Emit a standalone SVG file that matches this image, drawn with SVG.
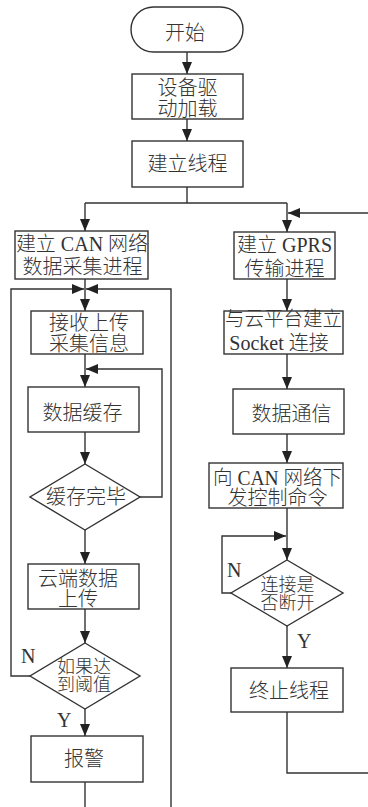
<svg xmlns="http://www.w3.org/2000/svg" width="368" height="807" viewBox="0 0 368 807">
<style>
.b{fill:#fff;stroke:#333;stroke-width:1.4}
.t{font-family:"Liberation Serif","Noto Sans CJK SC",serif;font-size:20px;font-weight:300;fill:#333;text-anchor:middle}
.d{font-size:18px}
.l{font-family:"Liberation Serif",serif;font-size:20px;fill:#333}
.c{fill:none;stroke:#333;stroke-width:1.4}
</style>
<defs>
<marker id="a" viewBox="0 0 12 10" refX="12" refY="5" markerWidth="12" markerHeight="10" markerUnits="userSpaceOnUse" orient="auto">
<path d="M0,0 L12,5 L0,10 z" fill="#222"/>
</marker>
</defs>
<rect width="368" height="807" fill="#fff"/>
<g id="connectors">
<path class="c" d="M187,52 V74" marker-end="url(#a)"/>
<path class="c" d="M187,119 V141" marker-end="url(#a)"/>
<path class="c" d="M187,187 V203 M85,203 H287"/>
<path class="c" d="M85,203 V231" marker-end="url(#a)"/>
<path class="c" d="M287,203 V232" marker-end="url(#a)"/>
<path class="c" d="M368,213 H288" marker-end="url(#a)"/>
<path class="c" d="M85,279 V311" marker-end="url(#a)"/>
<path class="c" d="M30,676 H11 V289 H84" marker-end="url(#a)"/>
<path class="c" d="M171,807 V289 H86" marker-end="url(#a)"/>
<path class="c" d="M85,354 V387" marker-end="url(#a)"/>
<path class="c" d="M140,497 H162 V369 H86" marker-end="url(#a)"/>
<path class="c" d="M85,432 V464" marker-end="url(#a)"/>
<path class="c" d="M85,530 V564" marker-end="url(#a)"/>
<path class="c" d="M85,609 V643" marker-end="url(#a)"/>
<path class="c" d="M85,709 V736" marker-end="url(#a)"/>
<path class="c" d="M85,782 V807"/>
<path class="c" d="M287,279 V311" marker-end="url(#a)"/>
<path class="c" d="M287,354 V389" marker-end="url(#a)"/>
<path class="c" d="M287,434 V463" marker-end="url(#a)"/>
<path class="c" d="M287,508 V560" marker-end="url(#a)"/>
<path class="c" d="M231,593 H222 V536 H286" marker-end="url(#a)"/>
<path class="c" d="M287,626 V668" marker-end="url(#a)"/>
<path class="c" d="M287,712 V773 H368"/>
<text class="l" x="21" y="663">N</text>
<text class="l" x="57" y="727">Y</text>
<text class="l" x="227" y="577">N</text>
<text class="l" x="297" y="648">Y</text>
</g>
<g id="start">
<rect class="b" x="131" y="7" width="112" height="45" rx="22.5"/>
<text class="t" x="185" y="40">开始</text>
</g>
<g id="driver">
<rect class="b" x="132" y="74" width="111" height="45"/>
<text class="t" x="187.5" y="95">设备驱</text>
<text class="t" x="187.5" y="116">动加载</text>
</g>
<g id="thread">
<rect class="b" x="132" y="141" width="111" height="46"/>
<text class="t" x="187.5" y="170.5">建立线程</text>
</g>
<g id="can">
<rect class="b" x="15" y="231" width="133" height="48"/>
<text class="t" x="82" y="251">建立 CAN 网络</text>
<text class="t" x="82.5" y="274">数据采集进程</text>
</g>
<g id="recv">
<rect class="b" x="31" y="311" width="112" height="43"/>
<text class="t" x="89" y="330">接收上传</text>
<text class="t" x="89" y="351">采集信息</text>
</g>
<g id="cache">
<rect class="b" x="28" y="387" width="111" height="45"/>
<text class="t" x="82.5" y="419.5">数据缓存</text>
</g>
<g id="cachedone">
<polygon class="b" points="85,464 140,497 85,530 30,497"/>
<text class="t" x="86" y="504">缓存完毕</text>
</g>
<g id="upload">
<rect class="b" x="28" y="564" width="111" height="45"/>
<text class="t" x="78" y="586">云端数据</text>
<text class="t" x="78" y="606">上传</text>
</g>
<g id="threshold">
<polygon class="b" points="85,643 140,676 85,709 30,676"/>
<text class="t d" x="84" y="672.5">如果达</text>
<text class="t d" x="84" y="691">到阈值</text>
</g>
<g id="alarm">
<rect class="b" x="31" y="736" width="112" height="46"/>
<text class="t" x="84" y="765.5">报警</text>
</g>
<g id="gprs">
<rect class="b" x="234" y="232" width="101" height="47"/>
<text class="t" x="284.5" y="252">建立 GPRS</text>
<text class="t" x="284.5" y="276">传输进程</text>
</g>
<g id="socket">
<rect class="b" x="224" y="311" width="119" height="43"/>
<text class="t" x="283.5" y="326" textLength="117" lengthAdjust="spacingAndGlyphs">与云平台建立</text>
<text class="t" x="279" y="350">Socket 连接</text>
</g>
<g id="comm">
<rect class="b" x="233" y="389" width="111" height="45"/>
<text class="t" x="291.5" y="420.5">数据通信</text>
</g>
<g id="control">
<rect class="b" x="209" y="463" width="134" height="45"/>
<text class="t" x="277.5" y="485" textLength="129" lengthAdjust="spacingAndGlyphs">向 CAN 网络下</text>
<text class="t" x="277.5" y="505">发控制命令</text>
</g>
<g id="disconnect">
<polygon class="b" points="287,560 343,593 287,626 231,593"/>
<text class="t d" x="287.5" y="590.5">连接是</text>
<text class="t d" x="287.5" y="609">否断开</text>
</g>
<g id="terminate">
<rect class="b" x="231" y="668" width="112" height="44"/>
<text class="t" x="289" y="697.5">终止线程</text>
</g>
</svg>
